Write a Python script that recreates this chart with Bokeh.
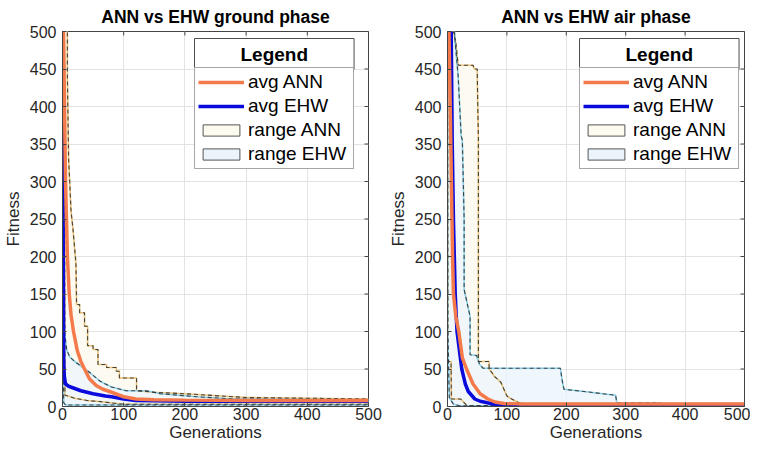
from bokeh.plotting import figure
from bokeh.layouts import row
from bokeh.models import Range1d, Legend, LegendItem, FixedTicker, Label
from bokeh.embed import file_html
from bokeh.resources import INLINE

# ---------------- data ----------------
titles = ["ANN vs EHW ground phase", "ANN vs EHW air phase"]
x_ticks = [0, 100, 200, 300, 400, 500]
y_ticks = [0, 50, 100, 150, 200, 250, 300, 350, 400, 450, 500]
x_lim = [0, 500]
y_lim = [0, 500]
series_names = ["avg ANN", "avg EHW", "range ANN", "range EHW"]

# ground phase
g_ann_avg_x = [1, 2, 5, 8, 11, 14, 18, 24, 30, 36, 44, 55, 66, 77, 90, 100, 120, 150, 200, 300, 500]
g_ann_avg_y = [520, 480, 300, 200, 150, 122, 100, 75, 60, 50, 37, 28, 23, 20, 16, 13, 10, 9, 8.5, 8, 8]
g_ehw_avg_x = [0, 1, 2, 3, 5, 10, 20, 30, 50, 70, 80, 100, 120, 150, 200, 500]
g_ehw_avg_y = [520, 250, 60, 40, 30, 27, 24, 21, 17, 14, 13, 10, 8, 7.5, 7, 7]
g_ann_hi_x = [0, 8, 8, 10, 14, 17, 22, 23, 28, 28, 36, 36, 41, 41, 50, 50, 58, 58, 72, 72, 88, 88, 93, 93,
              121, 121, 150, 200, 300, 500]
g_ann_hi_y = [520, 520, 440, 330, 260, 238, 190, 136, 136, 125, 125, 107, 107, 81, 81, 76, 76, 56, 56, 52,
              52, 47, 47, 38, 38, 21, 19, 17, 12, 10]
g_ann_lo_x = [0, 3, 4, 9, 20, 40, 60, 100, 500]
g_ann_lo_y = [520, 500, 15, 14, 11, 8, 6.6, 3, 3]
g_ehw_hi_x = [0, 1, 2, 3, 7, 12, 20, 30, 45, 61, 80, 104, 137, 160, 220, 280, 500]
g_ehw_hi_y = [520, 500, 300, 100, 75, 66, 60, 54, 45, 34, 26, 21, 21, 17, 13, 10, 9]
g_ehw_lo_x = [0, 1, 2, 5, 500]
g_ehw_lo_y = [520, 60, 5, 2, 2]

# air phase
a_ann_avg_x = [2, 5, 7.5, 8.5, 10, 14, 19, 25, 32, 43, 55, 68, 80, 95, 120, 500]
a_ann_avg_y = [520, 380, 250, 200, 150, 120, 100, 65, 50, 30, 17, 10, 6, 4, 3.5, 3.5]
a_ehw_avg_x = [6, 8, 10, 11.5, 13, 16, 20, 24, 30, 35, 46, 55, 67, 80, 95, 500]
a_ehw_avg_y = [520, 350, 250, 200, 150, 100, 75, 50, 30, 20, 10, 7, 5, 3, 2, 2]
a_ann_hi_x = [0, 10, 14, 18, 43, 45, 50, 51, 52, 52, 70, 70, 75, 79, 85, 90, 95, 100, 108, 120, 130, 500]
a_ann_hi_y = [520, 500, 485, 455, 455, 450, 450, 400, 357, 60, 60, 50, 45, 40, 36, 32, 23, 14, 10, 5, 4, 4]
a_ann_lo_x = [0, 0.5, 1, 6, 6.5, 22, 33, 500]
a_ann_lo_y = [520, 75, 60, 60, 10, 10, 1, 1]
a_ehw_hi_x = [0, 10, 13, 18, 23, 25, 28, 28, 35, 38, 38, 49, 54, 60, 190, 193, 196, 230, 283, 285, 357, 360, 500]
a_ehw_hi_y = [520, 520, 485, 440, 361, 355, 250, 156, 131, 120, 69, 68, 56, 51, 51, 35, 23, 20, 15, 5, 5, 4, 4]
a_ehw_lo_x = [0, 0.3, 3, 10, 20, 500]
a_ehw_lo_y = [520, 105, 12, 3, 1, 1]

panels = [
    dict(ann_avg=(g_ann_avg_x, g_ann_avg_y), ehw_avg=(g_ehw_avg_x, g_ehw_avg_y),
         ann_hi=(g_ann_hi_x, g_ann_hi_y), ann_lo=(g_ann_lo_x, g_ann_lo_y),
         ehw_hi=(g_ehw_hi_x, g_ehw_hi_y), ehw_lo=(g_ehw_lo_x, g_ehw_lo_y)),
    dict(ann_avg=(a_ann_avg_x, a_ann_avg_y), ehw_avg=(a_ehw_avg_x, a_ehw_avg_y),
         ann_hi=(a_ann_hi_x, a_ann_hi_y), ann_lo=(a_ann_lo_x, a_ann_lo_y),
         ehw_hi=(a_ehw_hi_x, a_ehw_hi_y), ehw_lo=(a_ehw_lo_x, a_ehw_lo_y)),
]

# ---------------- style ----------------
FONT = "Liberation Sans"
ORANGE = "#F47A4B"
BLUE = "#0A0ADC"
ANN_FILL = "#FDFBEF"
EHW_FILL = "#EBF4FB"
ANN_EDGE = "#E8C27C"
EHW_EDGE = "#8CD0E8"
DASH = "#2a2a2a"
FRAME = "#444444"

LEG_X = 132          # legend left, px from frame left
LEG_Y = 237          # legend bottom, px from frame bottom
LEG_H = 100          # 3 + 4*22 + 3*2 + 3


def make_fig(i, width, border_left, border_right):
    d = panels[i]
    p = figure(width=width, height=444, output_backend="svg", toolbar_location=None,
               x_range=Range1d(*x_lim), y_range=Range1d(*y_lim),
               min_border_left=border_left, min_border_right=border_right,
               min_border_top=24, min_border_bottom=4)
    p.title.text = titles[i]
    p.title.align = "center"
    p.title.text_font = FONT
    p.title.text_font_size = "17.5px"
    p.title.text_font_style = "bold"
    p.title.text_color = "black"
    p.title.standoff = 9
    p.title.offset = 0

    def poly(hi, lo):
        return list(hi[0]) + list(lo[0])[::-1], list(hi[1]) + list(lo[1])[::-1]

    ex, ey = poly(d["ehw_hi"], d["ehw_lo"])
    ax, ay = poly(d["ann_hi"], d["ann_lo"])
    p.patch(ax, ay, fill_color=ANN_FILL, fill_alpha=0.9, line_color=None)
    p.patch(ex, ey, fill_color=EHW_FILL, fill_alpha=0.75, line_color=None)

    # range edges: coloured solid line with black dashes on top
    for key, col in (("ann_hi", ANN_EDGE), ("ann_lo", ANN_EDGE), ("ehw_hi", EHW_EDGE), ("ehw_lo", EHW_EDGE)):
        xs, ys = d[key]
        p.line(xs, ys, line_color=col, line_width=1.6)
    for key in ("ann_hi", "ann_lo", "ehw_hi", "ehw_lo"):
        xs, ys = d[key]
        p.line(xs, ys, line_color=DASH, line_width=1.1, line_dash="4 3", line_alpha=0.85)

    # averages
    r_ehw = p.line(*d["ehw_avg"], line_color=BLUE, line_width=3.5)
    r_ann = p.line(*d["ann_avg"], line_color=ORANGE, line_width=3.5)

    # legend proxies for the ranges (hidden copies of the range areas, outlined)
    r_rann = p.patch(ax, ay, fill_color=ANN_FILL, line_color="#555555", line_width=1, visible=False)
    r_rehw = p.patch(ex, ey, fill_color=EHW_FILL, line_color="#555555", line_width=1, visible=False)

    # inner tick marks on the top and right frame edges
    p.scatter(x_ticks, [y_lim[1]] * len(x_ticks), marker="dash", size=8, angle=1.5708,
              line_color=FRAME, line_width=1)
    p.scatter([x_lim[1]] * len(y_ticks), y_ticks, marker="dash", size=8,
              line_color=FRAME, line_width=1)

    legend = Legend(items=[LegendItem(label=series_names[0], renderers=[r_ann]),
                           LegendItem(label=series_names[1], renderers=[r_ehw]),
                           LegendItem(label=series_names[2], renderers=[r_rann]),
                           LegendItem(label=series_names[3], renderers=[r_rehw])],
                    location=(LEG_X, LEG_Y), label_text_font=FONT, label_text_font_size="19px",
                    label_text_color="black", glyph_width=46, glyph_height=14, label_standoff=4,
                    label_width=102, label_height=22, spacing=2, padding=3, margin=0,
                    border_line_color="#4d4d4d", border_line_width=1,
                    background_fill_color="white", background_fill_alpha=1,
                    inactive_fill_alpha=0, click_policy="none")
    p.add_layout(legend, "center")

    header = Label(x=LEG_X, y=LEG_Y + LEG_H, x_units="screen", y_units="screen", text="Legend",
                   text_font=FONT, text_font_size="19px", text_font_style="bold", text_color="black",
                   border_line_color="#4d4d4d", border_line_width=1,
                   background_fill_color="white", padding=(46, 5))
    p.add_layout(header)

    for ax_ in (p.xaxis[0], p.yaxis[0]):
        ax_.major_label_text_font = FONT
        ax_.major_label_text_font_size = "16px"
        ax_.major_label_text_color = "#262626"
        ax_.axis_label_text_font = FONT
        ax_.axis_label_text_font_size = "17px"
        ax_.axis_label_text_font_style = "normal"
        ax_.axis_label_text_color = "#262626"
        ax_.axis_line_color = FRAME
        ax_.major_tick_line_color = FRAME
        ax_.major_tick_in = 4
        ax_.major_tick_out = 0
        ax_.minor_tick_line_color = None
    p.xaxis[0].major_label_standoff = 1
    p.xaxis[0].axis_label_standoff = 0
    p.yaxis[0].major_label_standoff = 6
    p.yaxis[0].axis_label_standoff = 4
    p.xaxis[0].ticker = FixedTicker(ticks=x_ticks)
    p.yaxis[0].ticker = FixedTicker(ticks=y_ticks)
    p.xaxis[0].axis_label = "Generations"
    p.yaxis[0].axis_label = "Fitness"

    p.xgrid.ticker = FixedTicker(ticks=x_ticks)
    p.ygrid.ticker = FixedTicker(ticks=y_ticks)
    p.grid.grid_line_color = "#e3e3e3"
    p.grid.grid_line_width = 1
    p.outline_line_color = FRAME
    p.outline_line_width = 1
    p.background_fill_color = "white"
    p.border_fill_color = "white"
    return p


p1 = make_fig(0, 385, 54, 17)
p2 = make_fig(1, 365, 54, 6)
layout = row(p1, p2)

open("out.html", "w").write(file_html(layout, INLINE))
